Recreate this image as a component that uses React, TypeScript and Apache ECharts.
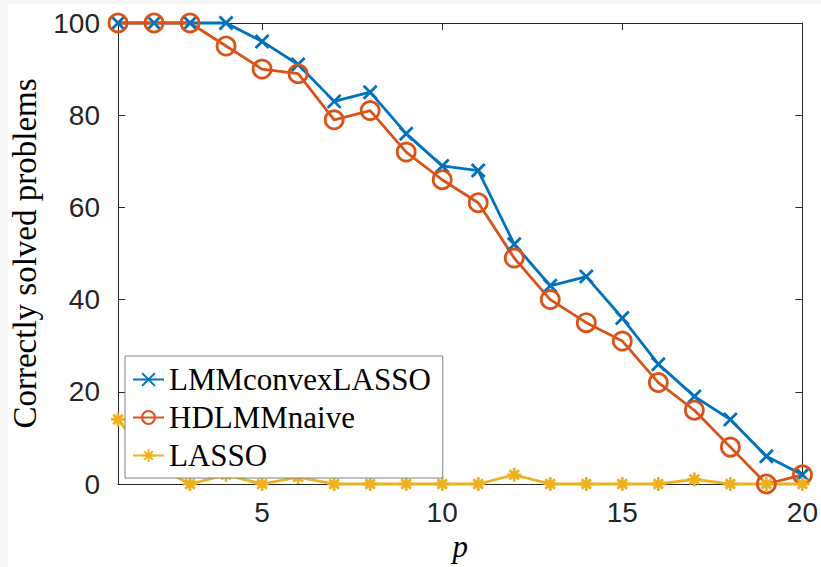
import React, { useEffect, useRef } from "react";
import * as echarts from "echarts";

const pValues = [1, 2, 3, 4, 5, 6, 7, 8, 9, 10, 11, 12, 13, 14, 15, 16, 17, 18, 19, 20];
const lmmConvexLasso = [100, 100, 100, 100, 96, 91, 83, 85, 76, 69, 68, 52, 43, 45, 36, 26, 19, 14, 6, 2];
const hdlmmNaive = [100, 100, 100, 95, 90, 89, 79, 81, 72, 66, 61, 49, 40, 35, 31, 22, 16, 8, 0, 2];
const lasso = [14, 4, 0, 2, 0, 1.5, 0, 0, 0, 0, 0, 2, 0, 0, 0, 0, 1, 0, 0, 0];
const xTicks = [5, 10, 15, 20];
const seriesNames = ["LMMconvexLASSO", "HDLMMnaive", "LASSO"];

const BLUE = "#0072BD";
const ORANGE = "#D95319";
const YELLOW = "#EDB120";
const AXIS = "#262626";
const SERIF = "Liberation Serif";

const CROSS = "path://M0,0L10,10M10,0L0,10";
const STAR = "path://M5,0L5,10M0,5L10,5M1.6,1.6L8.4,8.4M8.4,1.6L1.6,8.4";

function pairs(ys: number[]) {
  return pValues.map((x, i) => [x, ys[i]]);
}

export default function App() {
  const ref = useRef<HTMLDivElement>(null);
  useEffect(() => {
    if (!ref.current) return;
    const chart = echarts.init(ref.current, null, { renderer: "svg" });
    const tickStyle = { show: true, inside: true, length: 7, lineStyle: { color: AXIS, width: 1 } };
    const axisLine = { show: true, onZero: false, lineStyle: { color: AXIS, width: 1 } };
    chart.setOption({
      animation: false,
      backgroundColor: "#ffffff",
      graphic: [
        { type: "rect", z: -10, shape: { x: 0, y: 0, width: 8, height: 567 }, style: { fill: "#f6f6f6" } },
        { type: "rect", z: -10, shape: { x: 0, y: 0, width: 821, height: 4 }, style: { fill: "#f6f6f6" } },
      ],
      grid: { left: 115, right: 16, top: 23, bottom: 80, containLabel: false },
      legend: {
        orient: "vertical",
        left: 125,
        top: 356,
        z: 20,
        padding: [8, 12, 7, 7],
        itemGap: 7,
        itemWidth: 31,
        itemHeight: 16,
        backgroundColor: "#ffffff",
        borderColor: "#808080",
        borderWidth: 1,
        borderRadius: 0,
        data: seriesNames,
        textStyle: {
          fontFamily: SERIF,
          fontSize: 31,
          lineHeight: 31,
          color: "#000000",
        },
      },
      xAxis: [
        {
          type: "value",
          min: 1,
          max: 20,
          position: "bottom",
          axisLine,
          axisTick: { ...tickStyle, customValues: xTicks },
          axisLabel: {
            customValues: xTicks,
            fontFamily: "Liberation Sans",
            fontSize: 28,
            color: AXIS,
            margin: 14,
          },
          splitLine: { show: false },
          name: "p",
          nameLocation: "middle",
          nameGap: 47,
          nameTextStyle: {
            fontFamily: SERIF,
            fontStyle: "italic",
            fontSize: 31,
            color: "#000000",
          },
        },
        {
          type: "value",
          min: 1,
          max: 20,
          position: "top",
          axisLine,
          axisTick: { ...tickStyle, customValues: xTicks },
          axisLabel: { show: false, customValues: xTicks },
          splitLine: { show: false },
        },
      ],
      yAxis: [
        {
          type: "value",
          min: 0,
          max: 100,
          interval: 20,
          position: "left",
          axisLine,
          axisTick: tickStyle,
          axisLabel: {
            fontFamily: "Liberation Sans",
            fontSize: 28,
            color: AXIS,
            margin: 18,
          },
          splitLine: { show: false },
          name: "Correctly solved problems",
          nameLocation: "middle",
          nameGap: 77,
          nameTextStyle: {
            fontFamily: SERIF,
            fontSize: 33,
            color: "#000000",
          },
        },
        {
          type: "value",
          min: 0,
          max: 100,
          interval: 20,
          position: "right",
          axisLine,
          axisTick: tickStyle,
          axisLabel: { show: false },
          splitLine: { show: false },
        },
      ],
      series: [
        {
          name: seriesNames[0],
          type: "line",
          data: pairs(lmmConvexLasso),
          clip: false,
          symbol: CROSS,
          symbolSize: 13,
          lineStyle: { color: BLUE, width: 2.8 },
          itemStyle: { color: BLUE, borderColor: BLUE, borderWidth: 2.8 },
          z: 2,
        },
        {
          name: seriesNames[1],
          type: "line",
          data: pairs(hdlmmNaive),
          clip: false,
          symbol: "circle",
          symbolSize: 18,
          lineStyle: { color: ORANGE, width: 2.8 },
          itemStyle: { color: "rgba(0,0,0,0)", borderColor: ORANGE, borderWidth: 2.8 },
          z: 2,
        },
        {
          name: seriesNames[2],
          type: "line",
          data: pairs(lasso),
          clip: false,
          symbol: STAR,
          symbolSize: 14,
          lineStyle: { color: YELLOW, width: 2.8 },
          itemStyle: { color: YELLOW, borderColor: YELLOW, borderWidth: 2.8 },
          z: 2,
        },
      ],
    });
    return () => chart.dispose();
  }, []);
  return (
    <div
      ref={ref}
      style={{ position: "fixed", left: 0, top: 0, width: 821, height: 567 }}
    />
  );
}
